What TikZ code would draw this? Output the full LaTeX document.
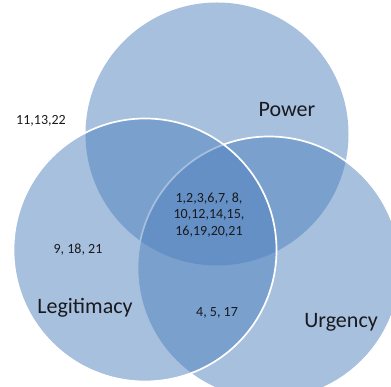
\documentclass[tikz,border=0pt]{standalone}
\usepackage{fontspec}
\setmainfont{Carlito}
\usepackage{xcolor}
\usepackage{tikz}
\usetikzlibrary{positioning}

\definecolor{vennblue}{RGB}{79,129,189}
\definecolor{inktext}{RGB}{25,25,30}

\begin{document}
\begin{tikzpicture}[
  x=1pt, y=1pt,
  set/.style={circle, inner sep=0pt, minimum size=263pt, fill=vennblue, fill opacity=0.5, text opacity=1},
  rim/.style={set, draw=white, line width=1.7pt},
  setname/.style={font=\fontsize{22}{26}\selectfont, text=inktext},
  members/.style={font=\fontsize{14}{16.4}\selectfont, text=inktext, align=center}
]

% ---------- Frame ----------
\useasboundingbox (0,0) rectangle (391,387);
\clip (0,0) rectangle (391,387);

% ---------- Sets (Power underneath, Legitimacy on top) ----------
\node[set] (power) at (217,253) {};
\node[rim] (urgency) at (269,119) {};
\node[rim] (legit) at (145,137) {};

% ---------- Set names ----------
\node[setname] (powername) at (287,277) {Power};
\node[setname] (legitname) at (85,79) {Legitimacy};
\node[setname] (urgname) at (341,65) {Urgency};

% ---------- Members of each region ----------
\node[members] (outside) at (41,266) {11,13,22};
\node[members] (all) at (209,172) {1,2,3,6,7, 8,\\10,12,14,15,\\16,19,20,21};
\node[members] (legonly) at (78,137) {9, 18, 21};
\node[members] (legurg) at (217,74) {4, 5, 17};

\end{tikzpicture}
\end{document}
